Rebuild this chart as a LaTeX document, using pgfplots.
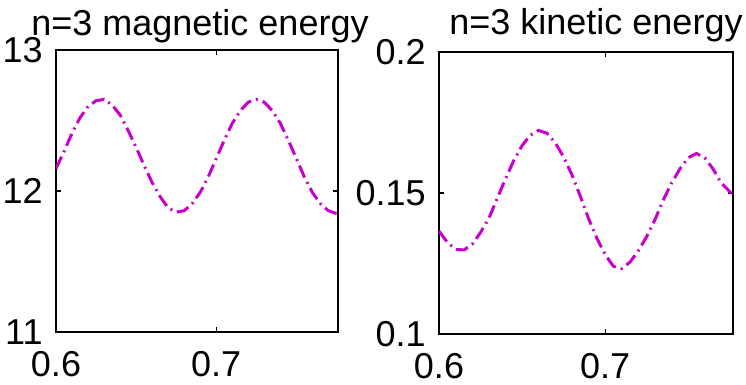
\documentclass[border=0pt]{standalone}
\usepackage{fontspec}
\setmainfont{Liberation Sans}
\usepackage{pgfplots}
\pgfplotsset{compat=1.18}
\definecolor{mag}{RGB}{200,0,205}
\begin{document}
\begin{tikzpicture}
\path[use as bounding box] (0,0) rectangle (373pt,192.5pt);
\pgfplotsset{
  every axis title/.style={at={(0.5,1)}, anchor=base, inner sep=0pt},
  every axis/.append style={
    scale only axis,
    font=\fontsize{18}{20}\selectfont,
    axis line style={line width=0.8pt},
    tick style={black, line width=0.6pt},
    major tick length=2.5pt,
    tick align=inside,
    xtick={0.6,0.7}, xticklabels={0.6,0.7},
    xticklabel style={inner sep=0pt, anchor=north, yshift=-9.5pt},
    yticklabel style={inner sep=0pt, anchor=east, xshift=-6.5pt},
    /pgf/number format/assume math mode=true,
  },
  mystyle/.style={color=mag, line width=1.5pt,
    dash pattern=on 6.5pt off 2.5pt on 1pt off 2.5pt},
}
\begin{axis}[
  at={(28pt,26.5pt)}, anchor=south west,
  width=141pt, height=141pt,
  xmin=0.6, xmax=0.776, ymin=11, ymax=13,
  ytick={11,12,13}, yticklabels={11,12,13},
  title={n=3 magnetic energy},
  title style={yshift=7.5pt, xshift=1.5pt},
]
\addplot[mystyle] coordinates {
(0.600,12.16) (0.605,12.28) (0.610,12.41) (0.615,12.52) (0.620,12.60)
(0.625,12.64) (0.630,12.65) (0.635,12.61) (0.640,12.54) (0.645,12.43)
(0.650,12.31) (0.655,12.18) (0.660,12.06) (0.665,11.96) (0.670,11.88)
(0.675,11.85) (0.680,11.86) (0.685,11.91) (0.690,11.99) (0.695,12.10)
(0.700,12.23) (0.705,12.36) (0.710,12.48) (0.715,12.57) (0.720,12.63)
(0.725,12.65) (0.730,12.63) (0.735,12.57) (0.740,12.48) (0.745,12.36)
(0.750,12.23) (0.755,12.10) (0.760,11.99) (0.765,11.91) (0.770,11.86)
(0.775,11.84) (0.776,11.84)
};
\end{axis}
\begin{axis}[
  at={(219.5pt,25.5pt)}, anchor=south west,
  width=147pt, height=141pt,
  xmin=0.6, xmax=0.777, ymin=0.1, ymax=0.2,
  ytick={0.1,0.15,0.2}, yticklabels={0.1,0.15,0.2},
  title={n=3 kinetic energy},
  title style={yshift=8.5pt, xshift=5pt},
]
\addplot[mystyle] coordinates {
(0.600,0.1365) (0.605,0.1325) (0.610,0.1300) (0.615,0.1298) (0.620,0.1318)
(0.625,0.1360) (0.630,0.1410) (0.635,0.1480) (0.640,0.1550) (0.645,0.1615)
(0.650,0.1668) (0.655,0.1705) (0.660,0.1722) (0.665,0.1712) (0.670,0.1678)
(0.675,0.1628) (0.680,0.1565) (0.685,0.1490) (0.690,0.1410) (0.695,0.1340)
(0.700,0.1282) (0.705,0.1240) (0.710,0.1232) (0.715,0.1255) (0.720,0.1295)
(0.725,0.1345) (0.730,0.1405) (0.735,0.1475) (0.740,0.1535) (0.745,0.1585)
(0.750,0.1625) (0.755,0.1640) (0.760,0.1625) (0.765,0.1585) (0.770,0.1535)
(0.775,0.1505) (0.777,0.1490)
};
\end{axis}
\end{tikzpicture}
\end{document}
